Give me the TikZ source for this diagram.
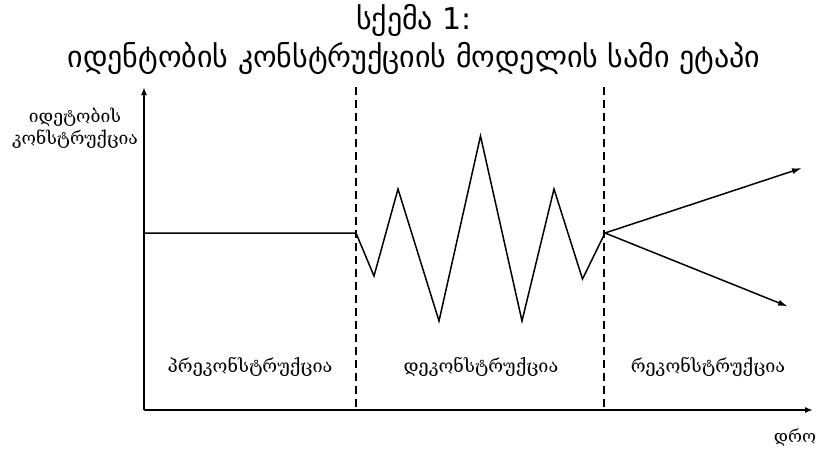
\documentclass[tikz,border=0pt]{standalone}
\usepackage{fontspec}
\setmainfont{DejaVu Sans}
\newfontfamily\geoserif{DejaVu Serif}
\usetikzlibrary{arrows.meta}
\begin{document}
\begin{tikzpicture}[x=1pt,y=-1pt,
  axisline/.style={line width=1.6pt,-{Latex[length=8pt,width=6pt]}},
  phaseline/.style={line width=1.4pt,dash pattern=on 8pt off 5pt},
  curve/.style={line width=1.5pt,line join=miter},
  branch/.style={line width=1.5pt,-{Latex[length=10pt,width=6pt]}},
  phaselabel/.style={font=\geoserif\fontsize{18}{22}\selectfont,inner sep=0pt},
  titletext/.style={font=\fontsize{30}{38}\selectfont,align=center,inner sep=0pt}]
\useasboundingbox (0,0) rectangle (828,451);
% title
\node[titletext] (title) at (414,39.5) {სქემა 1:\\იდენტობის კონსტრუქციის მოდელის სამი ეტაპი};
% axes
\coordinate (origin) at (144,410);
\coordinate (ytop) at (144,87);
\coordinate (xend) at (813,410);
\draw[axisline] (origin) -- (ytop);
\draw[axisline] (origin) -- (xend);
\node[phaselabel,align=center,font=\geoserif\fontsize{17.5}{22}\selectfont] (ylabel) at (75,128) {იდეტობის\\კონსტრუქცია};
\node[phaselabel,font=\geoserif\fontsize{17}{20}\selectfont] (xlabel) at (795,437) {დრო};
% phase boundaries
\coordinate (b1top) at (356,87);
\coordinate (b1bot) at (356,410);
\coordinate (b2top) at (604,87);
\coordinate (b2bot) at (604,410);
\draw[phaseline] (b1top) -- (b1bot);
\draw[phaseline] (b2top) -- (b2bot);
% identity curve
\coordinate (start) at (144,233);
\coordinate (p0) at (356,233);
\coordinate (p1) at (374,276);
\coordinate (p2) at (398,189);
\coordinate (p3) at (439,321);
\coordinate (p4) at (480.5,136);
\coordinate (p5) at (522,321);
\coordinate (p6) at (554,189);
\coordinate (p7) at (582.5,279);
\coordinate (p8) at (605,233);
\draw[curve] (start) -- (p0) -- (p1) -- (p2) -- (p3) -- (p4) -- (p5) -- (p6) -- (p7) -- (p8);
\coordinate (up) at (802,168);
\coordinate (down) at (788,306.5);
\draw[branch] (p8) -- (up);
\draw[branch] (p8) -- (down);
% phase names
\node[phaselabel] (pre) at (250,367) {პრეკონსტრუქცია};
\node[phaselabel] (de) at (481,367) {დეკონსტრუქცია};
\node[phaselabel] (re) at (708,367) {რეკონსტრუქცია};
\end{tikzpicture}
\end{document}
